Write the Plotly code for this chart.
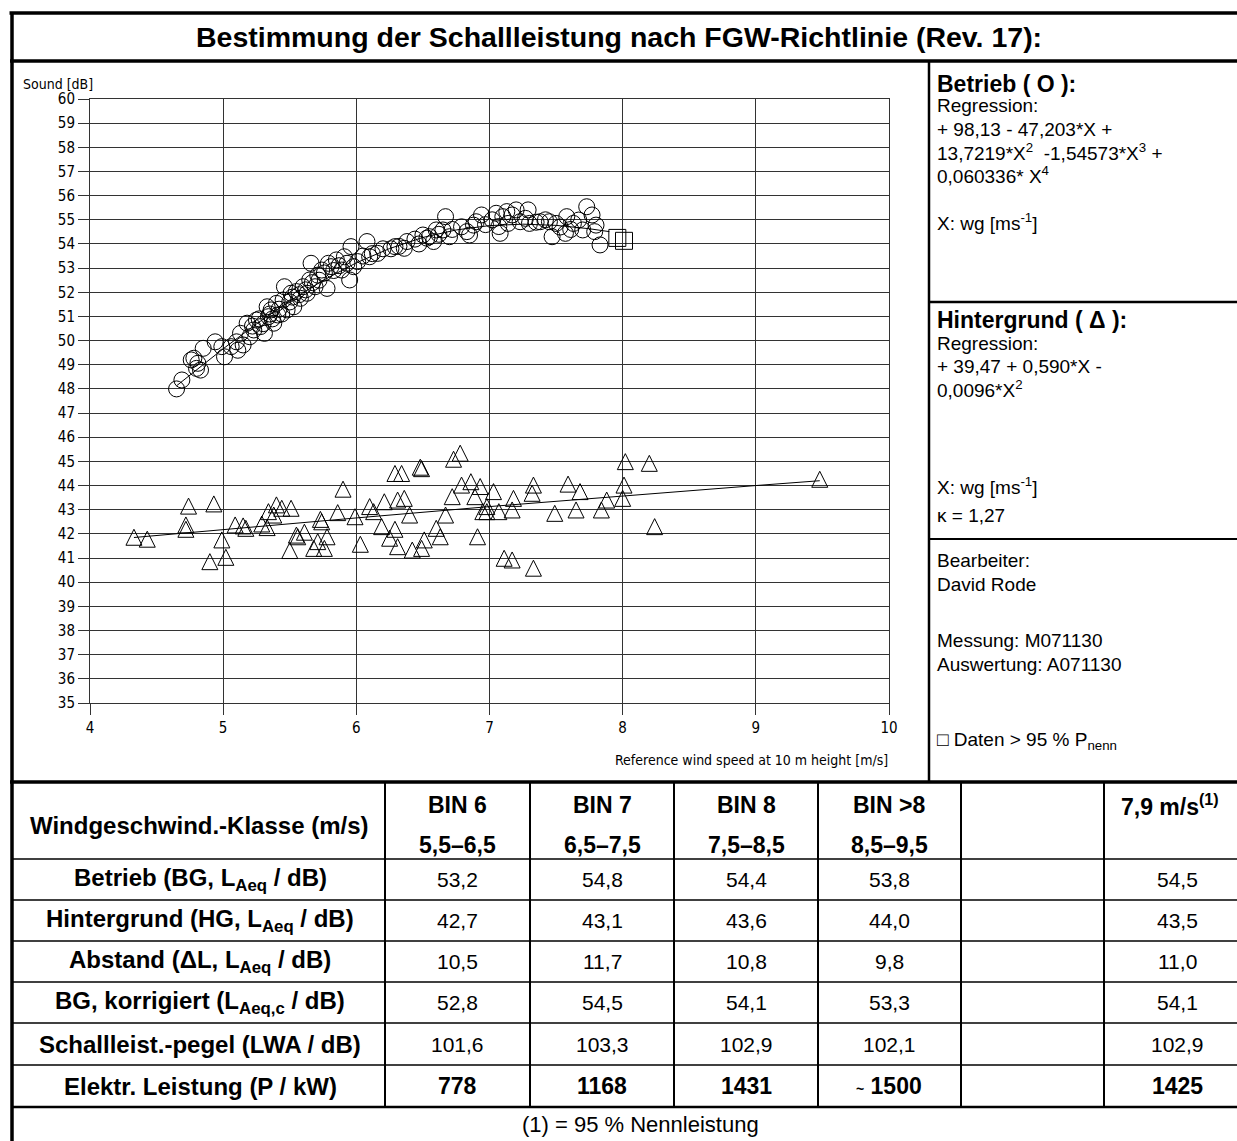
import plotly.graph_objects as go

W, H = 1237, 1141
def px(x): return x / W
def py(y): return 1 - y / H

# ---------------- data ----------------
circ_x = [4.65,4.69,4.76,4.78,4.81,4.83,4.80,4.85,4.94,5.01,4.99,5.06,5.10,5.13,5.15,5.11,5.18,5.20,5.23,5.25,
          5.28,5.31,5.33,5.34,5.36,5.38,5.40,5.41,5.45,5.46,5.48,5.51,5.53,5.55,5.58,5.60,5.63,5.65,5.66,5.69,
          5.71,5.74,5.78,5.79,5.81,5.85,5.89,5.91,5.95,5.96,5.98,6.01,6.08,6.10,6.16,6.29,6.36,6.38,6.50,6.53,
          6.58,6.60,6.67,6.70,6.79,6.83,6.65,6.85,6.88,6.90,6.94,7.05,7.07,7.08,7.10,7.13,7.14,7.17,7.20,7.23,
          7.27,7.29,7.30,7.38,7.45,7.47,7.50,7.57,7.58,7.63,7.67,7.70,7.73,7.77,7.80,7.83,7.79,
          5.22,5.27,5.30,5.35,5.37,5.42,5.44,5.50,5.52,5.57,5.62,5.67,5.72,5.76,5.83,5.87,5.93,6.05,6.12,6.20,
          6.26,6.32,6.44,6.47,6.55,6.62,6.72,6.97,7.02,7.35,7.42,7.53,7.61]
circ_y = [48.00,48.37,49.20,49.27,49.06,48.78,48.85,49.68,49.95,49.33,49.75,49.75,49.95,50.30,49.82,49.60,50.72,50.16,50.44,50.85,
          50.58,50.30,51.40,50.99,51.27,50.72,51.54,51.06,51.68,52.23,51.27,51.96,51.40,52.03,51.75,52.23,51.96,52.51,53.20,52.23,
          52.71,52.92,52.16,53.20,53.06,53.34,52.92,53.47,52.51,53.89,53.06,53.27,54.10,53.47,53.61,53.89,53.82,54.10,54.37,54.24,
          54.10,54.58,55.13,54.30,54.71,54.51,54.58,54.37,54.78,54.92,55.20,55.27,54.72,54.44,55.13,55.34,54.85,55.20,55.41,54.92,
          55.06,55.41,54.85,54.92,54.92,54.30,54.85,54.44,55.13,54.85,54.99,54.58,55.54,55.20,54.78,53.96,54.51,
          50.60,50.90,50.70,51.10,50.90,51.30,51.10,51.60,51.80,51.90,52.10,52.40,52.50,52.80,52.90,53.10,53.20,53.50,53.60,53.80,
          53.80,53.90,54.20,54.00,54.30,54.40,54.60,54.80,55.00,54.90,55.00,54.70,54.60]

tri_x = [4.33,4.43,4.74,4.72,4.72,4.93,4.90,5.02,4.99,5.09,5.15,5.17,5.29,5.33,5.34,5.40,5.44,5.38,5.51,5.50,
         5.55,5.56,5.61,5.68,5.71,5.76,5.78,5.73,5.74,5.86,5.90,5.99,6.03,6.10,6.13,6.21,6.19,6.25,6.29,6.34,
         6.31,6.36,6.40,6.29,6.31,6.42,6.49,6.48,6.49,6.51,6.63,6.60,6.67,6.72,6.73,6.78,6.79,6.86,6.89,6.91,
         6.93,6.98,6.98,7.03,6.95,7.07,7.18,7.17,7.11,7.17,7.33,7.32,7.33,7.49,7.59,7.68,7.65,7.84,7.88,8.00,
         8.01,8.02,8.20,8.24,9.48]
tri_y = [41.86,41.78,43.15,42.37,42.19,43.24,40.85,41.03,41.75,42.37,42.33,42.23,42.41,42.26,42.92,43.20,43.06,42.78,43.06,41.31,
         41.95,41.88,42.07,41.40,41.68,41.40,41.88,42.60,42.50,42.88,43.85,42.71,41.57,43.13,42.92,43.33,42.30,41.82,44.50,44.50,
         43.40,43.47,42.78,42.19,41.47,41.33,41.40,44.76,44.70,41.75,41.88,42.23,42.78,43.54,45.09,45.34,44.02,44.16,43.54,41.88,
         43.96,43.13,42.92,43.75,42.92,42.92,43.47,42.99,40.99,40.92,44.02,43.68,40.58,42.85,44.06,43.75,42.99,42.99,43.40,43.47,
         44.02,44.99,44.92,42.30,44.26]

sq_x = [7.96, 8.01]
sq_y = [54.25, 54.13]

reg_b_x = [4.65,4.8,5.0,5.25,5.5,5.75,6.0,6.25,6.5,6.75,7.0,7.25,7.5,7.75,7.9]
reg_b_y = [48.13,48.79,49.66,50.69,51.64,52.49,53.22,53.81,54.27,54.58,54.76,54.82,54.77,54.63,54.51]
reg_h_x = [4.33,5.0,6.0,7.0,8.0,9.0,9.48]
reg_h_y = [41.85,42.18,42.66,43.13,43.58,44.00,44.20]

x_ticks = [4,5,6,7,8,9,10]
y_ticks = list(range(35,61))

col_headers = ["BIN 6","BIN 7","BIN 8","BIN >8","","7,9 m/s<sup>(1)</sup>"]
col_ranges = ["5,5–6,5","6,5–7,5","7,5–8,5","8,5–9,5","",""]
row_labels = ["Betrieb (BG, L<sub>Aeq</sub> / dB)",
              "Hintergrund (HG, L<sub>Aeq</sub> / dB)",
              "Abstand (ΔL, L<sub>Aeq</sub> / dB)",
              "BG, korrigiert (L<sub>Aeq,c</sub> / dB)",
              "Schallleist.-pegel (LWA / dB)",
              "Elektr. Leistung (P / kW)"]
row_betrieb     = ["53,2","54,8","54,4","53,8","","54,5"]
row_hintergrund = ["42,7","43,1","43,6","44,0","","43,5"]
row_abstand     = ["10,5","11,7","10,8","9,8","","11,0"]
row_korrigiert  = ["52,8","54,5","54,1","53,3","","54,1"]
row_lwa         = ["101,6","103,3","102,9","102,1","","102,9"]
row_leistung    = ["778","1168","1431","<span style='font-size:14px'>~</span> 1500","","1425"]
table_rows = [row_betrieb,row_hintergrund,row_abstand,row_korrigiert,row_lwa,row_leistung]

# ---------------- figure ----------------
FONT = "Liberation Sans, Arial, sans-serif"
NARROW = "Liberation Sans Narrow, DejaVu Sans Condensed, Liberation Sans, sans-serif"

fig = go.Figure()
fig.add_trace(go.Scatter(x=reg_b_x, y=reg_b_y, mode="lines", line=dict(color="black", width=1), hoverinfo="skip"))
fig.add_trace(go.Scatter(x=reg_h_x, y=reg_h_y, mode="lines", line=dict(color="black", width=1), hoverinfo="skip"))
fig.add_trace(go.Scatter(x=circ_x, y=circ_y, mode="markers",
                         marker=dict(symbol="circle-open", size=16, color="black", line=dict(width=1, color="black"))))
fig.add_trace(go.Scatter(x=tri_x, y=tri_y, mode="markers",
                         marker=dict(symbol="arrow-down-open", angle=180, standoff=8, size=16, color="black",
                                     line=dict(width=1, color="black"))))
fig.add_trace(go.Scatter(x=sq_x, y=sq_y, mode="markers",
                         marker=dict(symbol="square-open", size=17, color="black", line=dict(width=1, color="black"))))

fig.update_layout(
    width=W, height=H, autosize=False, showlegend=False,
    margin=dict(l=0, r=0, t=0, b=0, autoexpand=False),
    paper_bgcolor="white", plot_bgcolor="white",
    font=dict(family=FONT, color="black"),
    xaxis=dict(domain=[px(90), px(889)], range=[4, 10], tickvals=x_ticks, showgrid=True, automargin=False,
               gridcolor="#333333", gridwidth=1, zeroline=False, showline=True, mirror=True,
               linecolor="#333333", linewidth=1, ticks="outside", ticklen=11, tickcolor="#333333",
               tickfont=dict(family=NARROW, size=15, color="black"), fixedrange=True),
    yaxis=dict(domain=[py(703), py(99)], range=[35, 60], tickvals=y_ticks, showgrid=True, automargin=False,
               gridcolor="#333333", gridwidth=1, zeroline=False, showline=True, mirror=True,
               linecolor="#333333", linewidth=1, ticks="outside", ticklen=11, tickcolor="#333333",
               tickfont=dict(family=NARROW, size=15, color="black"), fixedrange=True),
)

shapes = []
def hline(y, x0, x1, w):
    shapes.append(dict(type="line", xref="paper", yref="paper", x0=px(x0), x1=px(x1), y0=py(y), y1=py(y),
                       line=dict(color="black", width=w)))
def vline(x, y0, y1, w):
    shapes.append(dict(type="line", xref="paper", yref="paper", x0=px(x), x1=px(x), y0=py(y0), y1=py(y1),
                       line=dict(color="black", width=w)))

# outer frame
hline(13, 9.5, W, 3.5)
vline(12, 12, H, 3.5)
hline(61, 10, W, 3.5)
vline(929, 61, 781, 2.5)
hline(302, 929, W, 2.5)
hline(539, 929, W, 2)
hline(782, 10, W, 3.5)
# table
row_lines = [859, 900, 941, 982, 1023, 1065]
for y in row_lines:
    hline(y, 12, W, 1.5)
hline(1107, 12, W, 2.5)
col_lines = [385, 530, 674, 818, 961, 1104]
for x in col_lines:
    vline(x, 782, 1107, 2)
fig.update_layout(shapes=shapes)

def txt(x, y, s, size=19, bold=False, anchor="left", family=FONT):
    fig.add_annotation(x=px(x), y=py(y), xref="paper", yref="paper", text=("<b>%s</b>" % s if bold else s),
                       showarrow=False, xanchor=anchor, yanchor="middle", borderpad=0,
                       font=dict(family=family, size=size, color="black"))

# title
txt(619, 37, "Bestimmung der Schallleistung nach FGW-Richtlinie (Rev. 17):", size=28.5, bold=True, anchor="center")
# axis titles
txt(22, 84, "Sound [dB]", size=14, family=NARROW)
txt(889, 760, "Reference wind speed at 10 m height [m/s]", size=14, anchor="right", family=NARROW)

# right panel
RX = 936
panel = [
    (84, "<b>Betrieb ( O ):</b>", 23),
    (106, "Regression:", 19),
    (129, "+ 98,13 - 47,203*X +", 19),
    (152, "13,7219*X<sup>2</sup>  -1,54573*X<sup>3</sup> +", 19),
    (175, "0,060336* X<sup>4</sup>", 19),
    (222, "X: wg [ms<sup>-1</sup>]", 19),
    (320, "<b>Hintergrund ( Δ ):</b>", 23),
    (343, "Regression:", 19),
    (366, "+ 39,47 + 0,590*X -", 19),
    (389, "0,0096*X<sup>2</sup>", 19),
    (486, "X: wg [ms<sup>-1</sup>]", 19),
    (515, "κ = 1,27", 19),
    (560, "Bearbeiter:", 19),
    (584, "David Rode", 19),
    (641, "Messung: M071130", 19),
    (664, "Auswertung: A071130", 19),
    (741, "□ Daten > 95 % P<sub>nenn</sub>", 19),
]
for y, s, sz in panel:
    txt(RX, y, s, size=sz)

# table
col_centers = [457, 602, 746, 889, 1032, 1170]
TB = 24
TV = 21
txt(199, 825, "Windgeschwind.-Klasse (m/s)", size=TB, bold=True, anchor="center")
for cx, h, r in zip(col_centers, col_headers, col_ranges):
    if h:
        txt(cx, 805, h, size=23, bold=True, anchor="center")
    if r:
        txt(cx, 845, r, size=23, bold=True, anchor="center")
row_centers = [879.5, 920.5, 961.5, 1002.5, 1044, 1086]
for i, (yc, lab, vals) in enumerate(zip(row_centers, row_labels, table_rows)):
    txt(200, yc, lab, size=TB, bold=True, anchor="center")
    last = (i == len(row_labels) - 1)
    for cx, v in zip(col_centers, vals):
        if v:
            txt(cx if cx != 1170 else 1177, yc, v, size=(23 if last else TV), bold=last, anchor="center")
txt(640, 1124, "(1) = 95 % Nennleistung", size=22, anchor="center")

fig.write_html("out.html", config={"displayModeBar": False, "staticPlot": True},
               post_script="document.body.style.margin='0';document.body.style.padding='0';document.body.style.overflow='hidden';")
